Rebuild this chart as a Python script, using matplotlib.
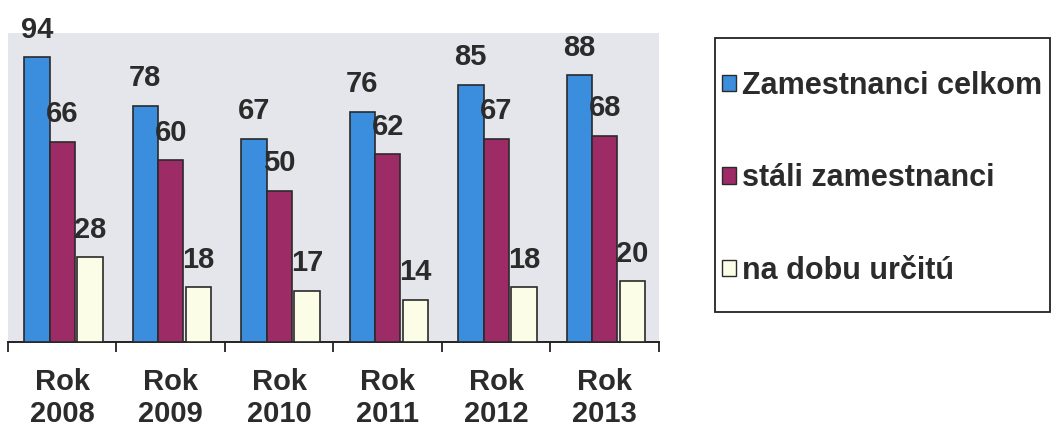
import matplotlib
matplotlib.use("Agg")
import matplotlib.pyplot as plt
import numpy as np
from matplotlib.patches import Patch, Rectangle

categories = ["Rok\n2008", "Rok\n2009", "Rok\n2010", "Rok\n2011", "Rok\n2012", "Rok\n2013"]
series_names = ["Zamestnanci celkom", "stáli zamestnanci", "na dobu určitú"]
celkom = [94, 78, 67, 76, 85, 88]
stali = [66, 60, 50, 62, 67, 68]
urcitu = [28, 18, 17, 14, 18, 20]

colors = ["#3b8ede", "#9c2b66", "#fbfde6"]
edge = "#2a2a2a"
txt = "#2b2b2b"

plt.rcParams['font.family'] = ['Liberation Sans', 'DejaVu Sans']

fig = plt.figure(figsize=(10.53, 4.32), dpi=100)
fig.patch.set_facecolor("white")
W, H = 1053, 432
ax = fig.add_axes([8 / W, (H - 342) / H, 651 / W, 309 / H])
ax.set_facecolor("#e5e6eb")

x = np.arange(len(categories))
bw = 0.235
offsets = [-bw, 0.0, bw + 0.02]
for vals, off, c in zip([celkom, stali, urcitu], offsets, colors):
    bars = ax.bar(x + off, vals, width=bw, color=c, edgecolor=edge, linewidth=1.2, zorder=3)
    for b, v in zip(bars, vals):
        ax.text(b.get_x() + b.get_width() / 2, v + 4.5, str(v), ha="center", va="bottom",
                fontsize=21, fontweight="bold", color=txt, clip_on=False, zorder=4)

ax.set_xlim(-0.5, 5.5)
ax.set_ylim(0, 102)
for s in ["top", "left", "right"]:
    ax.spines[s].set_visible(False)
ax.spines["bottom"].set_color("#222222")
ax.spines["bottom"].set_linewidth(1.4)
ax.set_yticks([])
ax.set_xticks(x)
ax.set_xticklabels(categories, fontsize=21, fontweight="bold", color=txt, linespacing=1.15)
ax.tick_params(axis="x", which="major", length=0, pad=19)
ax.set_xticks(np.arange(-0.5, 6.0, 1.0), minor=True)
ax.tick_params(axis="x", which="minor", length=7, width=1.3, color="#222222", direction="out")

# legend box
fig.patches.append(Rectangle((715 / W, 1 - 312 / H), 335 / W, 274 / H, transform=fig.transFigure,
                             facecolor="white", edgecolor="#222222", linewidth=1.3, zorder=1))
handles = [Patch(facecolor=c, edgecolor=edge, linewidth=1.0) for c in colors]
leg = fig.legend(handles, series_names, loc="upper left",
                 bbox_to_anchor=(722 / W, 1 - 71 / H), prop={"size": 22, "weight": "bold"},
                 handlelength=0.45, handleheight=0.45, handletextpad=0.2,
                 labelspacing=2.04, borderpad=0, borderaxespad=0,
                 frameon=False)
for t in leg.get_texts():
    t.set_color(txt)

fig.savefig("out.png", dpi=100, facecolor="white")
